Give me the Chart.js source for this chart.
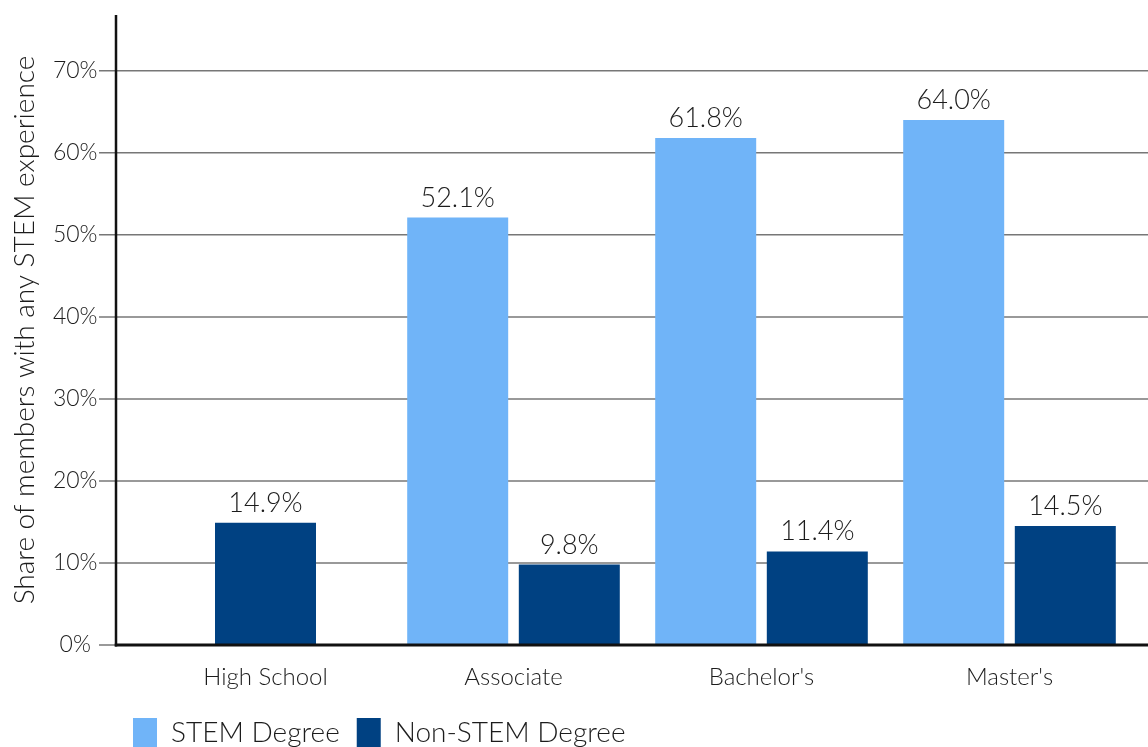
<!DOCTYPE html>
<html>
<head>
<meta charset="utf-8">
<script src="https://cdn.jsdelivr.net/npm/chart.js@4/dist/chart.umd.min.js"></script>
<style>
  html, body { margin: 0; padding: 0; background: #ffffff; }
  #c { display: block; }
</style>
</head>
<body>
<canvas id="c" width="1148" height="747"></canvas>
<script>
// ---- data ----
const categories = ["High School", "Associate", "Bachelor's", "Master's"];
const stemValues = [null, 52.1, 61.8, 64.0];
const nonStemValues = [14.9, 9.8, 11.4, 14.5];
const yTickValues = [0, 10, 20, 30, 40, 50, 60, 70];
const seriesNames = ["STEM Degree", "Non-STEM Degree"];
const yTitle = "Share of members with any STEM experience";

// ---- style ----
const FONT = "Lato, 'Open Sans', sans-serif";
const TEXT = "#1c1c1c";
const LIGHT = "#70b4f8";
const DARK = "#004182";
const AXIS_X = 116;      // x of the drawn vertical axis line
const GRID_START = 99;   // grid lines start (tick stubs left of axis)
const Y_SCALE_WIDTH = 141.5;
const LEGEND_INDENT = 116;

const gridAndAxes = {
  id: 'gridAndAxes',
  afterLayout(chart) {
    if (chart.legend) chart.legend.left += LEGEND_INDENT;
  },
  beforeDatasetsDraw(chart) {
    const ctx = chart.ctx, y = chart.scales.y;
    ctx.save();
    ctx.strokeStyle = '#777777';
    ctx.lineWidth = 1.5;
    y.ticks.forEach(t => {
      const py = y.getPixelForValue(t.value);
      ctx.beginPath();
      ctx.moveTo(GRID_START, py);
      ctx.lineTo(chart.width, py);
      ctx.stroke();
    });
    ctx.restore();
  },
  afterDatasetsDraw(chart) {
    const ctx = chart.ctx, a = chart.chartArea;
    ctx.save();
    ctx.strokeStyle = '#111111';
    ctx.lineWidth = 2.5;
    ctx.beginPath();
    ctx.moveTo(AXIS_X, a.top);
    ctx.lineTo(AXIS_X, a.bottom + 1.5);
    ctx.stroke();
    ctx.lineWidth = 3;
    ctx.beginPath();
    ctx.moveTo(AXIS_X - 1.25, a.bottom);
    ctx.lineTo(chart.width, a.bottom);
    ctx.stroke();

    // value labels
    ctx.fillStyle = TEXT;
    ctx.font = "300 27px " + FONT;
    ctx.textAlign = 'center';
    ctx.textBaseline = 'alphabetic';
    chart.data.datasets.forEach((ds, di) => {
      const meta = chart.getDatasetMeta(di);
      meta.data.forEach((el, i) => {
        const v = ds.data[i];
        if (v === null || v === undefined) return;
        ctx.fillText(v.toFixed(1) + '%', el.x, el.y - 11);
      });
    });
    ctx.restore();
  }
};

new Chart(document.getElementById('c'), {
  type: 'bar',
  data: {
    labels: categories,
    datasets: [
      { label: seriesNames[0], data: stemValues, backgroundColor: LIGHT },
      { label: seriesNames[1], data: nonStemValues, backgroundColor: DARK }
    ]
  },
  options: {
    responsive: false,
    animation: false,
    events: [],
    devicePixelRatio: 1,
    layout: { padding: { left: 0, right: 14.5, top: 15, bottom: -10 } },
    datasets: {
      bar: {
        skipNull: true,
        categoryPercentage: 0.9,
        barPercentage: 0.905,
        maxBarThickness: 101,
        borderWidth: 0
      }
    },
    scales: {
      x: {
        grid: { display: false, drawTicks: false },
        border: { display: false },
        ticks: {
          color: TEXT,
          font: { family: FONT, size: 24, weight: '300' },
          padding: 18,
          maxRotation: 0
        },
        afterFit(scale) { scale.height = 56; }
      },
      y: {
        min: 0,
        max: 76.8,
        grid: {
          display: true,
          drawOnChartArea: false,
          drawTicks: true,
          tickLength: 44,
          tickColor: 'rgba(0,0,0,0)'
        },
        border: { display: false },
        afterBuildTicks(scale) { scale.ticks = yTickValues.map(v => ({ value: v })); },
        ticks: {
          color: TEXT,
          font: { family: FONT, size: 23, weight: '300' },
          padding: 0,
          crossAlign: 'center',
          callback: v => v + '%'
        },
        title: {
          display: true,
          text: yTitle,
          color: TEXT,
          font: { family: FONT, size: 28, weight: '300' },
          padding: { top: 8, bottom: 0 }
        },
        afterFit(scale) { scale.width = Y_SCALE_WIDTH; }
      }
    },
    plugins: {
      tooltip: { enabled: false },
      legend: {
        position: 'bottom',
        align: 'start',
        labels: {
          color: TEXT,
          font: { family: FONT, size: 28, weight: '300' },
          boxWidth: 24,
          boxHeight: 29,
          padding: 17
        }
      }
    }
  },
  plugins: [gridAndAxes]
});
</script>
</body>
</html>
